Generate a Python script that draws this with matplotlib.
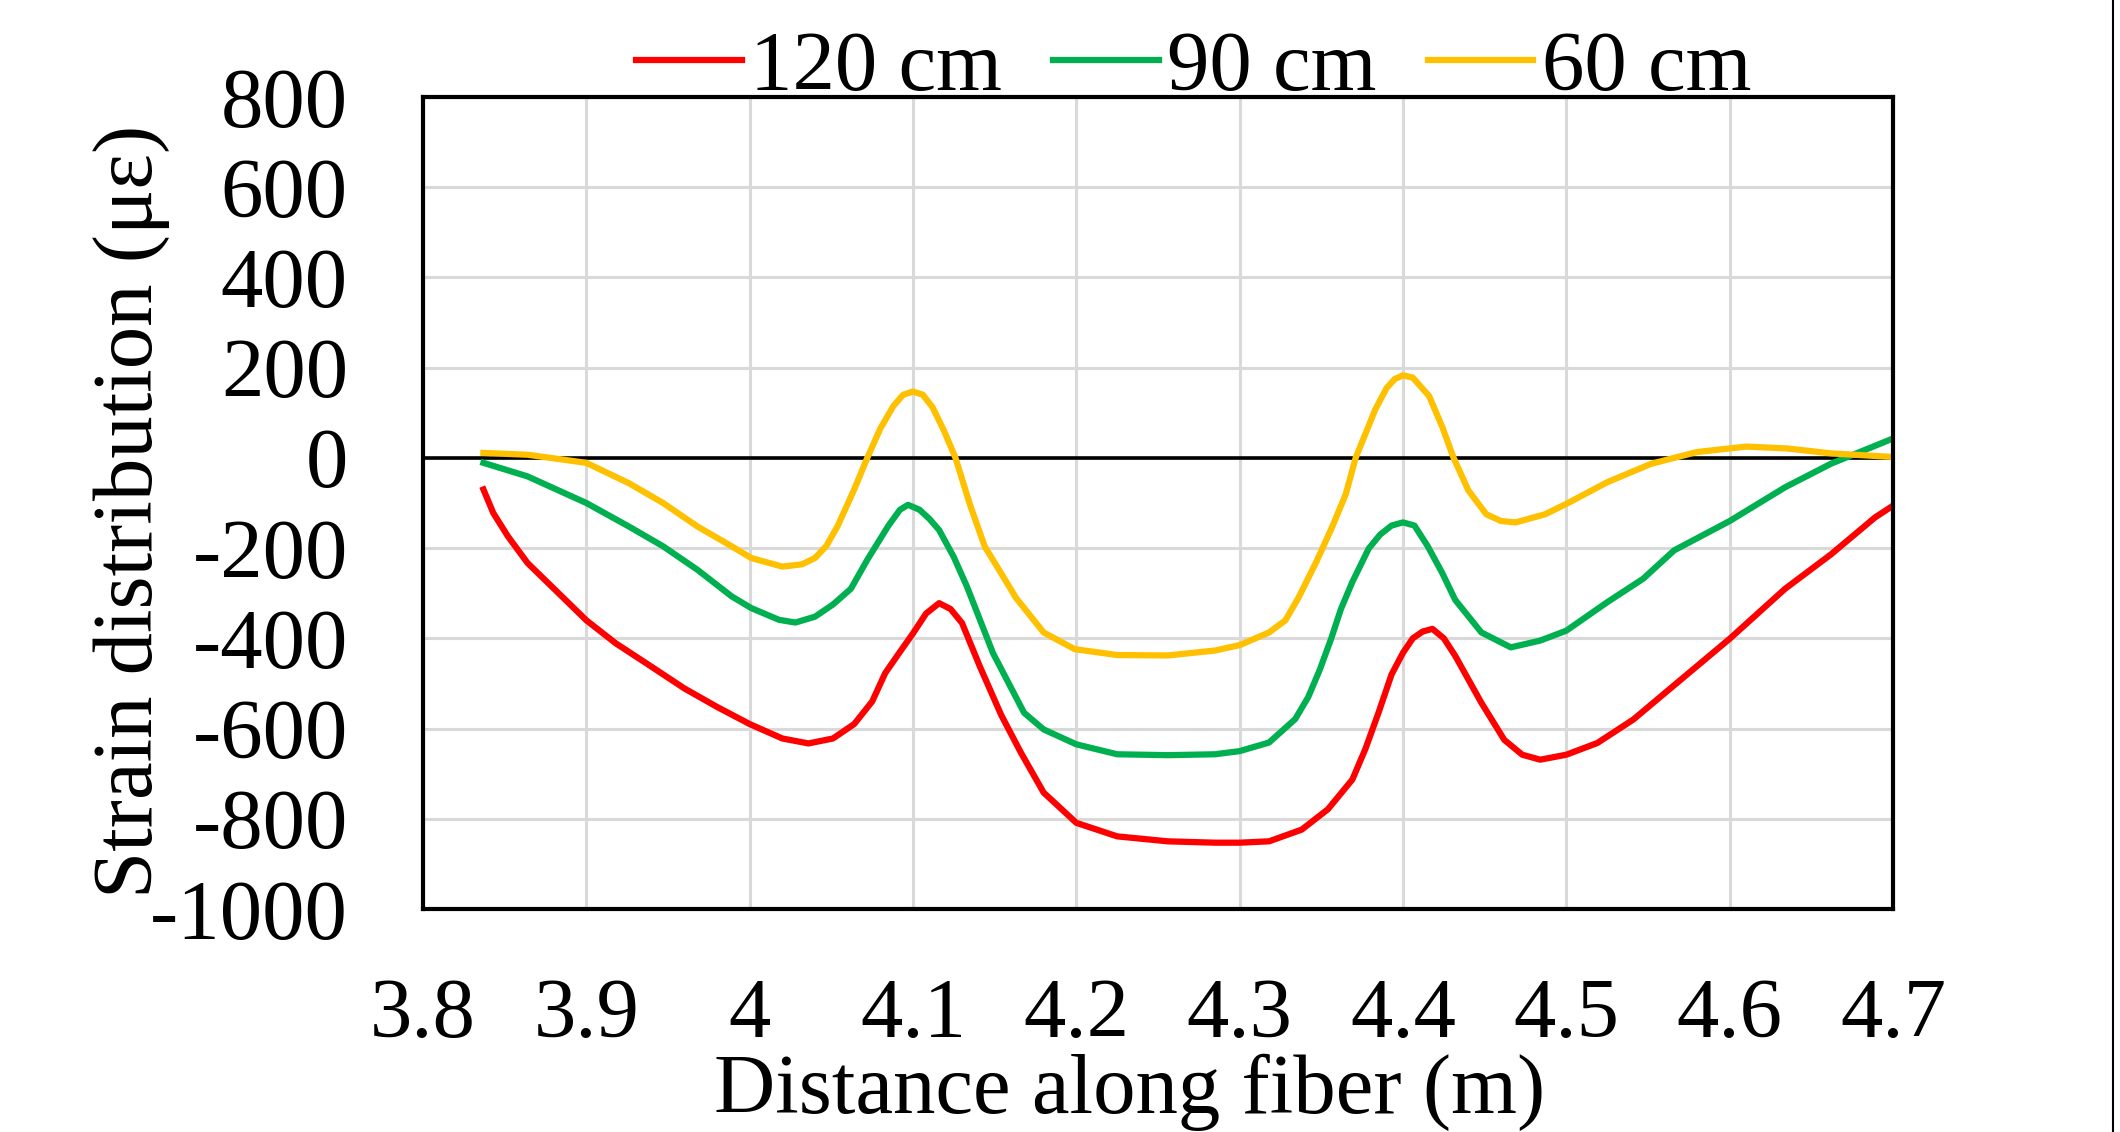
import matplotlib
matplotlib.use("Agg")
import matplotlib.pyplot as plt
from matplotlib.lines import Line2D

plt.rcParams['font.family'] = ['Liberation Serif', 'DejaVu Serif']
plt.rcParams['axes.unicode_minus'] = False

# 120 cm
x_120 = [3.837, 3.843, 3.852, 3.864, 3.885, 3.900, 3.918, 3.937, 3.960, 3.980, 4.000,
         4.020, 4.036, 4.051, 4.064, 4.075, 4.083, 4.092, 4.100, 4.108, 4.116, 4.123,
         4.130, 4.141, 4.154, 4.166, 4.180, 4.200, 4.225, 4.256, 4.285, 4.300, 4.318,
         4.338, 4.354, 4.369, 4.377, 4.385, 4.393, 4.400, 4.406, 4.412, 4.418, 4.425,
         4.432, 4.448, 4.462, 4.473, 4.484, 4.500, 4.519, 4.541, 4.568, 4.600, 4.634,
         4.662, 4.689, 4.700]
y_120 = [-70, -122, -174, -233, -307, -360, -411, -456, -511, -552, -590,
         -622, -633, -622, -590, -540, -477, -430, -389, -345, -322, -335,
         -366, -463, -570, -653, -742, -809, -839, -850, -853, -853, -850,
         -824, -779, -713, -645, -565, -480, -432, -400, -385, -379, -400,
         -439, -543, -625, -658, -669, -658, -632, -580, -498, -401, -290,
         -214, -132, -106]

# 90 cm
x_90 = [3.837, 3.864, 3.900, 3.926, 3.947, 3.968, 3.989, 4.001, 4.018, 4.028, 4.040,
        4.051, 4.062, 4.072, 4.085, 4.092, 4.097, 4.104, 4.110, 4.116, 4.125, 4.133,
        4.149, 4.168, 4.180, 4.200, 4.225, 4.256, 4.285, 4.300, 4.318, 4.334, 4.342,
        4.349, 4.356, 4.362, 4.369, 4.379, 4.386, 4.393, 4.400, 4.407, 4.415, 4.424,
        4.432, 4.448, 4.466, 4.484, 4.500, 4.525, 4.547, 4.566, 4.600, 4.634, 4.662,
        4.700]
y_90 = [-11, -41, -100, -152, -196, -248, -307, -333, -359, -365, -352,
        -325, -290, -226, -150, -115, -104, -115, -135, -160, -220, -285,
        -433, -565, -602, -635, -657, -659, -657, -650, -631, -579, -530,
        -470, -401, -335, -275, -201, -170, -150, -143, -150, -195, -255,
        -315, -387, -420, -405, -383, -320, -268, -205, -140, -65, -13,
        43]

# 60 cm
x_60 = [3.837, 3.864, 3.900, 3.926, 3.947, 3.968, 3.989, 4.001, 4.020, 4.032, 4.040,
        4.047, 4.054, 4.064, 4.072, 4.080, 4.088, 4.094, 4.100, 4.106, 4.112, 4.119,
        4.126, 4.135, 4.144, 4.153, 4.163, 4.180, 4.199, 4.225, 4.256, 4.285, 4.300,
        4.318, 4.328, 4.336, 4.347, 4.357, 4.365, 4.371, 4.383, 4.390, 4.395, 4.400,
        4.406, 4.416, 4.424, 4.431, 4.440, 4.451, 4.460, 4.469, 4.487, 4.500, 4.525,
        4.552, 4.580, 4.610, 4.635, 4.662, 4.700]
y_60 = [11, 7, -11, -56, -100, -152, -196, -222, -241, -236, -222,
        -195, -150, -70, 0, 65, 115, 140, 147, 140, 112, 60,
        0, -105, -197, -250, -310, -387, -424, -437, -438, -427, -415,
        -387, -360, -310, -230, -150, -80, 0, 107, 155, 175, 183,
        178, 137, 69, 0, -72, -125, -140, -143, -125, -102, -54,
        -13, 13, 25, 21, 10, 2]

x_ticks = [3.8, 3.9, 4.0, 4.1, 4.2, 4.3, 4.4, 4.5, 4.6, 4.7]
x_tick_labels = ["3.8", "3.9", "4", "4.1", "4.2", "4.3", "4.4", "4.5", "4.6", "4.7"]
y_ticks = [-1000, -800, -600, -400, -200, 0, 200, 400, 600, 800]

fig = plt.figure(figsize=(21.2, 11.32), dpi=100)
ax = fig.add_axes([423 / 2120, 1 - 909 / 1132, 1470 / 2120, 812 / 1132])

ax.plot(x_120, y_120, color='#FF0000', lw=4.5, label='120 cm')
ax.plot(x_90, y_90, color='#00B050', lw=4.5, label='90 cm')
ax.plot(x_60, y_60, color='#FFC000', lw=4.5, label='60 cm')
ax.axhline(0, color='black', lw=2.6, zorder=1.5)

ax.set_xlim(3.8, 4.7)
ax.set_ylim(-1000, 800)
ax.set_xticks(x_ticks)
ax.set_xticklabels(x_tick_labels)
ax.set_yticks(y_ticks)
ax.grid(True, color='#d9d9d9', lw=2.2)
ax.set_axisbelow(True)
for s in ax.spines.values():
    s.set_linewidth(3)
    s.set_color('black')
ax.tick_params(axis='both', length=0, labelsize=61)
ax.tick_params(axis='x', pad=50)
ax.tick_params(axis='y', pad=54)

ax.set_xlabel('Distance along fiber (m)', fontsize=61)
ax.set_ylabel('Strain distribution (με)', fontsize=61)
ax.xaxis.set_label_coords(0.481, -0.178)
ax.yaxis.set_label_coords(-0.172, 0.49)

ax.legend(loc='lower center', bbox_to_anchor=(0.563, 0.905), bbox_transform=fig.transFigure,
          ncol=3, frameon=False, fontsize=61, handlelength=1.25, handletextpad=0.1,
          columnspacing=0.6, borderaxespad=0, borderpad=0)

# image border line at the right edge
fig.add_artist(Line2D([0.9965, 0.9965], [0, 1], transform=fig.transFigure, color='black', lw=1.5))

fig.savefig('out.png', dpi=100)
